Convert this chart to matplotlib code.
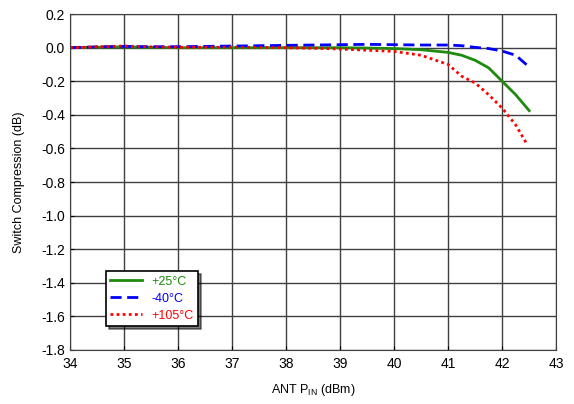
import matplotlib
matplotlib.use("Agg")
import matplotlib.pyplot as plt

plt.rcParams['font.family'] = ['Liberation Sans', 'DejaVu Sans']

# input power (dBm)
x = [34, 34.5, 35, 35.5, 36, 36.5, 37, 37.5, 38, 38.5, 39, 39.5, 40, 40.5,
     41, 41.25, 41.5, 41.75, 42, 42.25, 42.5]

# switch compression (dB)
t25 = [0, 0.003, 0.005, 0.002, 0, 0, 0, 0, 0, 0, 0, -0.002, -0.005, -0.012,
       -0.028, -0.045, -0.075, -0.12, -0.2, -0.28, -0.375]
tm40 = [0, 0.005, 0.008, 0.006, 0.006, 0.008, 0.01, 0.012, 0.014, 0.016, 0.018,
        0.02, 0.018, 0.016, 0.016, 0.012, 0.002, -0.005, -0.02, -0.045, -0.115]
t105 = [0, 0.005, 0.01, 0.005, 0.003, 0.003, 0.003, 0.002, 0, -0.003, -0.008,
        -0.015, -0.022, -0.045, -0.1, -0.17, -0.21, -0.28, -0.36, -0.46, -0.57]
x105 = x[:-1] + [42.45]

fig = plt.figure(figsize=(5.74, 4.04), dpi=100)
ax = fig.add_axes([0.122, 0.134, 0.847, 0.831])

ax.plot(x, t25, color='#1f8a0e', lw=2, label='+25°C')
ax.plot(x, tm40, color='#0000ff', lw=2, ls=(0, (4, 2)), label='-40°C')
ax.plot(x105, t105, color='#ff0000', lw=2, ls=(0, (1, 1.2)), label='+105°C')

ax.set_xlim(34, 43)
ax.set_ylim(-1.8, 0.2)
ax.set_xticks(range(34, 44))
ax.set_yticks([0.2 - 0.2 * i for i in range(11)])
ax.set_yticklabels(['%.1f' % (0.2 - 0.2 * i) if i != 1 else '0.0' for i in range(11)])
ax.grid(True, color='#404040', lw=1)
ax.tick_params(direction='in', length=3, labelsize=10, colors='black')
ax.tick_params(axis='x', pad=5)
for s in ax.spines.values():
    s.set_color('#404040')

ax.set_xlabel('ANT P$_{\\mathregular{IN}}$ (dBm)', fontsize=9, labelpad=8)
ax.set_ylabel('Switch Compression (dB)', fontsize=9, labelpad=12)

leg = ax.legend(loc='lower left', bbox_to_anchor=(0.074, 0.071), fontsize=9,
                fancybox=False, shadow={'ox': 2, 'oy': -2, 'color': 'black'},
                edgecolor='black', handlelength=2.5, borderpad=0.35,
                labelspacing=0.4, borderaxespad=0, framealpha=1)
leg.get_frame().set_linewidth(1.2)
for txt, ln in zip(leg.get_texts(), leg.get_lines()):
    txt.set_color(ln.get_color())

fig.savefig('out.png', dpi=100)
